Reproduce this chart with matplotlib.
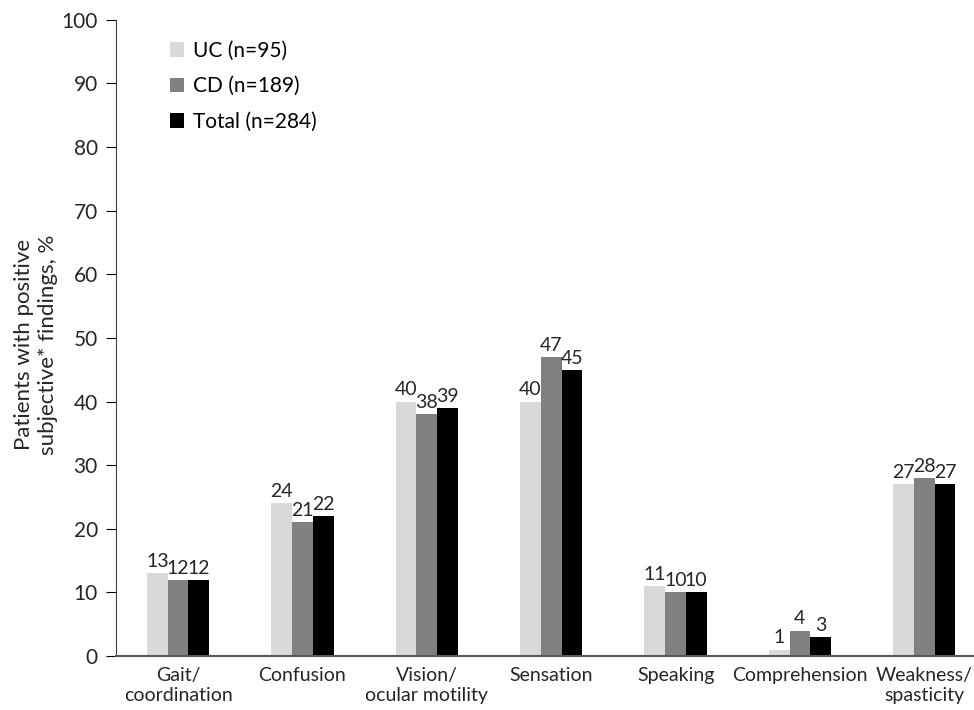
import matplotlib
matplotlib.use("Agg")
import matplotlib.pyplot as plt
import numpy as np

plt.rcParams['font.family'] = ['Lato', 'DejaVu Sans']

categories = ["Gait/\ncoordination", "Confusion", "Vision/\nocular motility", "Sensation",
              "Speaking", "Comprehension", "Weakness/\nspasticity"]
series_names = ["UC (n=95)", "CD (n=189)", "Total (n=284)"]
uc = [13, 24, 40, 40, 11, 1, 27]
cd = [12, 21, 38, 47, 10, 4, 28]
total = [12, 22, 39, 45, 10, 3, 27]
colors = ["#d9d9d9", "#808080", "#000000"]

fig = plt.figure(figsize=(9.74, 7.1), dpi=100)
ax = fig.add_axes([0.119, 0.076, 0.881, 0.896])

x = np.arange(len(categories))
w = 0.1667
for k, (vals, name, c) in enumerate(zip([uc, cd, total], series_names, colors)):
    pos = x + (k - 1) * w
    ax.bar(pos, vals, w, color=c, label=name)
    for p, v in zip(pos, vals):
        ax.text(p, v + 0.5, str(v), ha='center', va='bottom', fontsize=14, color='#262626')

ax.set_xlim(-0.5, 6.4)
ax.set_ylim(0, 100)
ax.set_yticks(range(0, 101, 10))
ax.set_xticks(x)
ax.set_xticklabels(categories, fontsize=14, color='#262626', linespacing=1.2)
ax.tick_params(axis='x', length=0, pad=8)
ax.tick_params(axis='y', labelsize=15, labelcolor='#262626', length=7, direction='out', pad=6)
for s in ['top', 'right']:
    ax.spines[s].set_visible(False)
ax.spines['left'].set_color('#404040')
ax.spines['bottom'].set_color('#595959')
ax.spines['bottom'].set_linewidth(1.5)

ax.set_ylabel("Patients with positive\nsubjective* findings, %", fontsize=16, color='#262626')
ax.yaxis.set_label_coords(-0.068, 0.49)

ax.legend(loc='upper left', bbox_to_anchor=(0.041, 0.997), frameon=False, fontsize=15,
          handlelength=0.7, handleheight=0.7, handletextpad=0.4, labelspacing=0.75)

fig.savefig("out.png", dpi=100)
